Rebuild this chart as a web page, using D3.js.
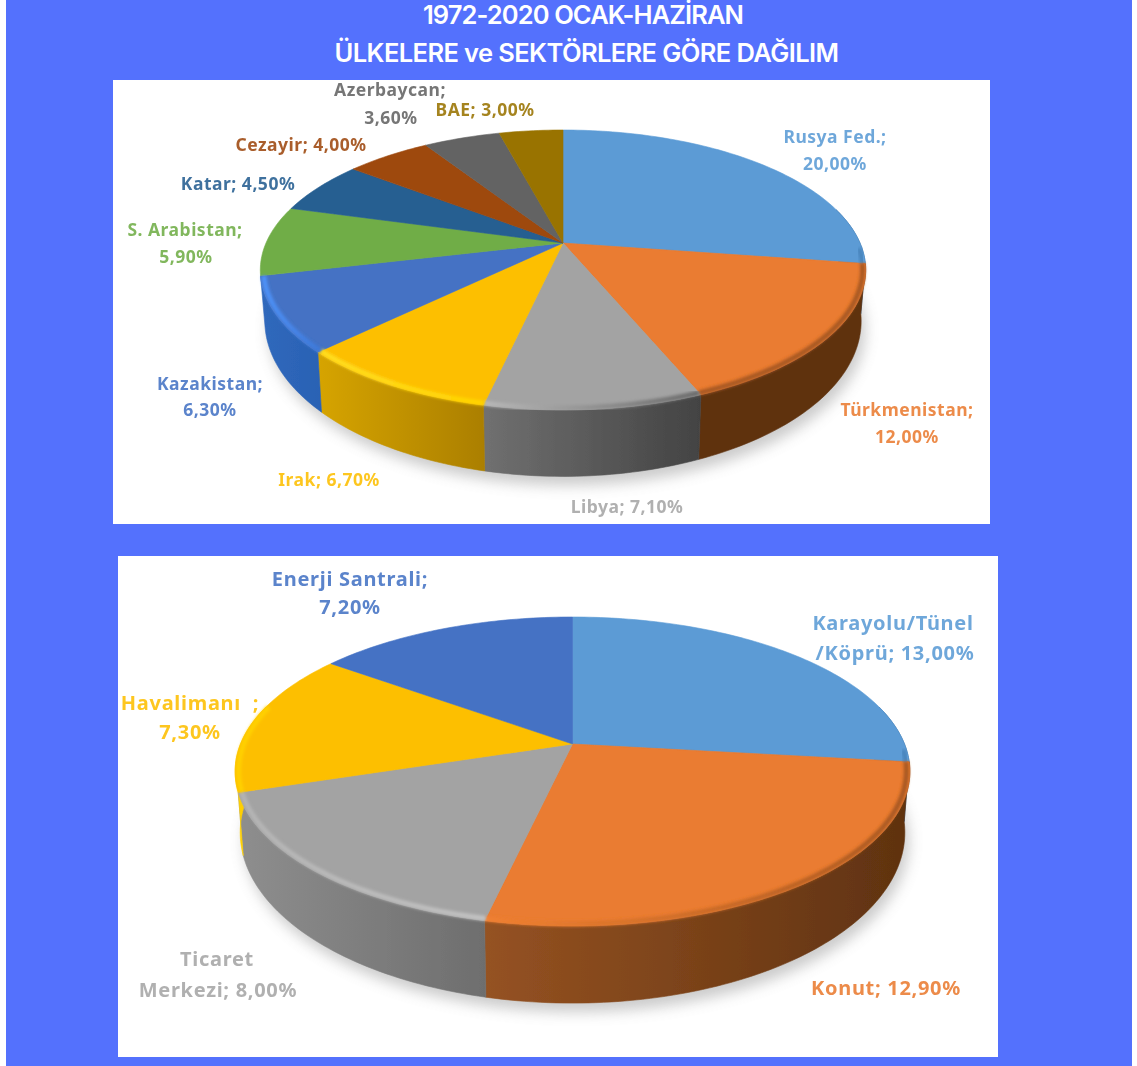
<!DOCTYPE html>
<html><head><meta charset="utf-8">
<script src="https://cdnjs.cloudflare.com/ajax/libs/d3/7.8.5/d3.min.js"></script>
<style>html,body{margin:0;padding:0;background:#fff;overflow:hidden}svg{display:block}</style>
</head><body><div id="chart"></div>
<script>
// ---- data ----
const titleLines = ["1972-2020 OCAK-HAZİRAN", "ÜLKELERE ve SEKTÖRLERE GÖRE DAĞILIM"];
const countryNames = ["Rusya Fed.", "Türkmenistan", "Libya", "Irak", "Kazakistan", "S. Arabistan", "Katar", "Cezayir", "Azerbaycan", "BAE"];
const countryValues = [20.0, 12.0, 7.1, 6.7, 6.3, 5.9, 4.5, 4.0, 3.6, 3.0];
const sectorNames = ["Karayolu/Tünel /Köprü", "Konut", "Ticaret Merkezi", "Havalimanı ", "Enerji Santrali"];
const sectorValues = [13.0, 12.9, 8.0, 7.3, 7.2];

// ---- styles and layout ----
const W = 1137, H = 1066;
const fmt = v => v.toFixed(2).replace(".", ",") + "%";
// A = right end of the slice, B = left end
const countryStyle = [
  {top:"#5b9bd5", sideA:"#2d5f8f", sideB:"#2d5f8f", rimA:"#4a85bd", rimB:"#4a85bd", text:"#5b9bd5"},
  {top:"#ea7b30", sideA:"#5f3210", sideB:"#5f3210", rimA:"#a85820", rimB:"#a85820", text:"#ea7b30"},
  {top:"#a3a3a3", sideA:"#434343", sideB:"#707070", rimA:"#6a6a6a", rimB:"#b8b8b8", text:"#a5a5a5"},
  {top:"#fdbf00", sideA:"#ab7f00", sideB:"#d6a400", rimA:"#ffd400", rimB:"#ffde20", text:"#fdbf00"},
  {top:"#4472c4", sideA:"#2a62b4", sideB:"#3068bc", rimA:"#3d78d8", rimB:"#4f92f8", text:"#4472c4"},
  {top:"#70ad47", sideA:"#70ad47", sideB:"#70ad47", rimA:"#70ad47", rimB:"#70ad47", text:"#70ad47"},
  {top:"#255e91", sideA:"#255e91", sideB:"#255e91", rimA:"#255e91", rimB:"#255e91", text:"#255e91"},
  {top:"#9e480e", sideA:"#9e480e", sideB:"#9e480e", rimA:"#9e480e", rimB:"#9e480e", text:"#9e480e"},
  {top:"#636363", sideA:"#636363", sideB:"#636363", rimA:"#636363", rimB:"#636363", text:"#636363"},
  {top:"#997300", sideA:"#997300", sideB:"#997300", rimA:"#997300", rimB:"#997300", text:"#997300"}
];
const sectorStyle = [
  {top:"#5b9bd5", sideA:"#2d5f8f", sideB:"#2d5f8f", rimA:"#4a85bd", rimB:"#4a85bd", text:"#5b9bd5"},
  {top:"#ea7b30", sideA:"#5f3210", sideB:"#955222", rimA:"#a85820", rimB:"#f08030", text:"#ea7b30"},
  {top:"#a3a3a3", sideA:"#6e6e6e", sideB:"#8e8e8e", rimA:"#c2c2c2", rimB:"#b4b4b4", text:"#a5a5a5"},
  {top:"#fdbf00", sideA:"#ffd000", sideB:"#ffd000", rimA:"#ffd000", rimB:"#ffd000", text:"#fdbf00"},
  {top:"#4472c4", sideA:"#4472c4", sideB:"#4472c4", rimA:"#4472c4", rimB:"#4472c4", text:"#4472c4"}
];
const countryLabelPos = [
  [[835,143],[835,170]], [[907,416],[907,443]], [[627,513]], [[329,486]], [[210,390],[210,416]],
  [[185,236],[186,263]], [[238,190]], [[301,151]], [[390,96],[391,124]], [[485,116]]
];
const sectorLabelPos = [
  [[893,630],[895,660]], [[886,995]], [[217,966],[218,997]], [[190,710],[190,739]], [[350,586],[350,614]]
];
const countryLines = (n,v) => ({
  "Rusya Fed.":[n+";",fmt(v)], "Türkmenistan":[n+";",fmt(v)], "Kazakistan":[n+";",fmt(v)],
  "S. Arabistan":[n+";",fmt(v)], "Azerbaycan":[n+";",fmt(v)]
}[n] || [n+"; "+fmt(v)]);
const sectorLines = (n,v) => ({
  "Karayolu/Tünel /Köprü":["Karayolu/Tünel","/Köprü; "+fmt(v)],
  "Ticaret Merkezi":["Ticaret","Merkezi; "+fmt(v)],
  "Havalimanı ":["Havalimanı  ;",fmt(v)],
  "Enerji Santrali":["Enerji Santrali;",fmt(v)]
}[n] || [n+"; "+fmt(v)]);

const svg = d3.select("#chart").append("svg").attr("width", W).attr("height", H);
const defs = svg.append("defs");
[["soft",0.6],["rimBlur",1.8],["shadowBlur",7],["textBlur",0.4]].forEach(([id,s]) => {
  defs.append("filter").attr("id",id).attr("x","-10%").attr("y","-10%").attr("width","120%").attr("height","120%")
    .append("feGaussianBlur").attr("stdDeviation",s);
});

svg.append("rect").attr("width",W).attr("height",H).attr("fill","#ffffff");
svg.append("rect").attr("x",6).attr("y",0).attr("width",1126).attr("height",H).attr("fill","#5471fd");
svg.append("rect").attr("x",113).attr("y",80).attr("width",877).attr("height",444).attr("fill","#fff");
svg.append("rect").attr("x",118).attr("y",556).attr("width",880).attr("height",501).attr("fill","#fff");

svg.selectAll("text.title").data(titleLines).join("text").attr("class","title")
  .attr("x",(d,i)=>[583,586.5][i]).attr("y",(d,i)=>[24,62][i])
  .attr("text-anchor","middle").attr("fill","#fff")
  .attr("font-family","Inter, 'Open Sans', sans-serif").attr("font-weight",600)
  .attr("font-size",25.5).attr("letter-spacing",(d,i)=>[-0.9,-0.6][i]).text(d=>d);

function drawPie(cfg, names, values, styles, labelPos, lineFn, font, prefix) {
  const {cx, cy, R, S, k, sx, sy, d, lastDeg} = cfg;
  const project = (a, r=1) => {
    const u = r*Math.sin(a), v = r*Math.cos(a), w = 1 + k*v;
    return [cx + R*u/w, cy - S*v/w];
  };
  const lower = p => [cx + (p[0]-cx)*sx, cy + (p[1]-cy)*sy + d];
  const samples = (a0, a1, r=1) => {
    const n = Math.max(2, Math.ceil((a1-a0)/0.02));
    return d3.range(n+1).map(i => project(a0+(a1-a0)*i/n, r));
  };
  const line = d3.line();
  const arcs = d3.pie().sort(null)(values);
  const g = svg.append("g").attr("filter","url(#soft)");

  // cast shadow
  const ring = samples(0, 2*Math.PI).map(lower);
  svg.insert("path", () => g.node())
    .attr("d", line(ring)+"Z").attr("transform","translate(4,9)")
    .attr("fill","#8c8c8c").attr("opacity",0.45).attr("filter","url(#shadowBlur)");

  const grad = (id, x1, x2, c1, c2) => {
    const lg = defs.append("linearGradient").attr("id",id).attr("gradientUnits","userSpaceOnUse")
      .attr("x1",x1).attr("x2",x2).attr("y1",0).attr("y2",0);
    lg.append("stop").attr("offset",0).attr("stop-color",c1);
    lg.append("stop").attr("offset",1).attr("stop-color",c2);
    return `url(#${id})`;
  };
  const lim0 = 75*Math.PI/180, lim1 = lastDeg*Math.PI/180;

  // side wall
  arcs.forEach((s,i) => {
    const a0 = Math.max(s.startAngle, lim0), a1 = Math.min(s.endAngle, lim1);
    if (a1 <= a0) return;
    const up = samples(a0, a1), lo = up.map(lower).reverse();
    const xs = up.map(p=>p[0]).concat(lo.map(p=>p[0]));
    const fill = grad(`${prefix}side${i}`, d3.max(xs), d3.min(xs), styles[i].sideA, styles[i].sideB);
    g.append("path").attr("d", line(up.concat(lo))+"Z").attr("fill",fill).attr("stroke",fill).attr("stroke-width",0.6);
  });
  // top surface
  arcs.forEach((s,i) => {
    const pts = [project(0,0)].concat(samples(s.startAngle, s.endAngle));
    g.append("path").attr("d", line(pts)+"Z").attr("fill",styles[i].top)
      .attr("stroke",styles[i].top).attr("stroke-width",0.6);
  });
  // bevel along the front rim
  arcs.forEach((s,i) => {
    const a0 = Math.max(s.startAngle, lim0+0.3), a1 = Math.min(s.endAngle, lim1);
    if (a1 <= a0) return;
    const pts = samples(a0, a1, 0.99), xs = pts.map(p=>p[0]);
    g.append("path").attr("d", line(pts)).attr("fill","none")
      .attr("stroke", grad(`${prefix}rim${i}`, d3.max(xs), d3.min(xs), styles[i].rimA, styles[i].rimB))
      .attr("stroke-width",5).attr("filter","url(#rimBlur)");
  });
  // labels
  const lg = svg.append("g").attr("filter","url(#textBlur)")
    .attr("font-family","'Noto Sans', 'Open Sans', sans-serif").attr("font-weight",700)
    .attr("font-size",font.size).attr("letter-spacing",font.spacing).attr("text-anchor","middle");
  names.forEach((n,i) => {
    lineFn(n, values[i]).forEach((t,j) => {
      const [x,y] = labelPos[i][j];
      lg.append("text").attr("x",x).attr("y",y).attr("fill",styles[i].text)
        .attr("opacity",0.88).style("white-space","pre").text(t);
    });
  });
}

drawPie({cx:563, cy:243, R:297, S:134.8, k:0.193, sx:0.985, sy:1.11, d:48, lastDeg:256.4},
  countryNames, countryValues, countryStyle, countryLabelPos, countryLines, {size:17.5, spacing:0.5}, "c");
drawPie({cx:572.5, cy:744, R:332, S:149.6, k:0.178, sx:0.985, sy:1.105, d:58, lastDeg:285},
  sectorNames, sectorValues, sectorStyle, sectorLabelPos, sectorLines, {size:20, spacing:0.7}, "s");
</script></body></html>
